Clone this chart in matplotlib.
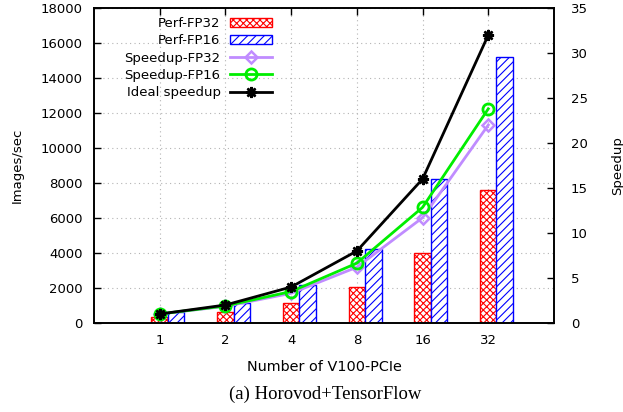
import matplotlib
matplotlib.use("Agg")
import matplotlib.pyplot as plt
import numpy as np

gpus = ["1", "2", "4", "8", "16", "32"]
perf_fp32 = [360, 650, 1120, 2050, 3980, 7600]
perf_fp16 = [610, 1150, 2150, 4230, 8210, 15220]
speedup_fp32 = [1.0, 1.85, 3.3, 6.2, 11.7, 22.0]
speedup_fp16 = [1.0, 1.9, 3.5, 6.65, 12.85, 23.8]
ideal = [1, 2, 4, 8, 16, 32]

plt.rcParams['font.family'] = ['DejaVu Sans']
plt.rcParams['hatch.linewidth'] = 0.8

fig = plt.figure(figsize=(6.23, 4.12), dpi=100)
ax = fig.add_axes([94/623, 89/412, 460/623, 315/412])
ax2 = ax.twinx()

x = np.arange(1, len(gpus) + 1)
w = 0.25
b1 = ax.bar(x, perf_fp32, w, facecolor='white', edgecolor='red', hatch='xxxxx', linewidth=1.0, label='Perf-FP32')
b2 = ax.bar(x + w, perf_fp16, w, facecolor='white', edgecolor='blue', hatch='////', linewidth=1.0, label='Perf-FP16')

l1, = ax2.plot(x, speedup_fp32, color='#c08cff', lw=2, marker='D', ms=6, mfc='none', mew=1.8, label='Speedup-FP32')
l2, = ax2.plot(x, speedup_fp16, color='#00ee00', lw=2, marker='o', ms=8, mfc='none', mew=2, label='Speedup-FP16')
l3, = ax2.plot(x, ideal, color='black', lw=2, marker=(8, 2, 0), ms=8, mew=1.8, label='Ideal speedup')

ax.set_xlim(0, 7)
ax.set_ylim(0, 18000)
ax2.set_ylim(0, 35)
ax.set_xticks(x)
ax.set_xticklabels(gpus)
ax.set_yticks(np.arange(0, 18001, 2000))
ax2.set_yticks(np.arange(0, 36, 5))

ax.grid(True, linestyle=(0, (1, 3)), color='#b4b4b4', lw=0.8)
ax.set_axisbelow(True)

for a in (ax, ax2):
    a.tick_params(direction='in', labelsize=9.5, length=5, width=1)
    for s in a.spines.values():
        s.set_linewidth(1.2)
ax.tick_params(top=True, right=False)
ax.tick_params(axis='x', pad=8)
ax2.tick_params(axis='y', pad=12)
ax.tick_params(axis='y', pad=8)

ax.set_ylabel('Images/sec', fontsize=9.5, labelpad=12)
ax2.set_ylabel('Speedup', fontsize=9.5, labelpad=17, rotation=90)
ax.set_xlabel('Number of V100-PCIe', fontsize=10.4, labelpad=9)

leg = ax2.legend([b1, b2, l1, l2, l3], ['Perf-FP32', 'Perf-FP16', 'Speedup-FP32', 'Speedup-FP16', 'Ideal speedup'],
                 loc='upper left', bbox_to_anchor=(0.046, 1.0), frameon=False, markerfirst=False,
                 fontsize=9.5, handlelength=3.2, handletextpad=0.7, labelspacing=0.32, borderaxespad=0.3)
for t in leg.get_texts():
    t.set_ha('right')

fig.text(0.522, 0.042, '(a) Horovod+TensorFlow', family='Liberation Serif', fontsize=13.5, ha='center', va='center')

fig.savefig('out.png', dpi=100)
